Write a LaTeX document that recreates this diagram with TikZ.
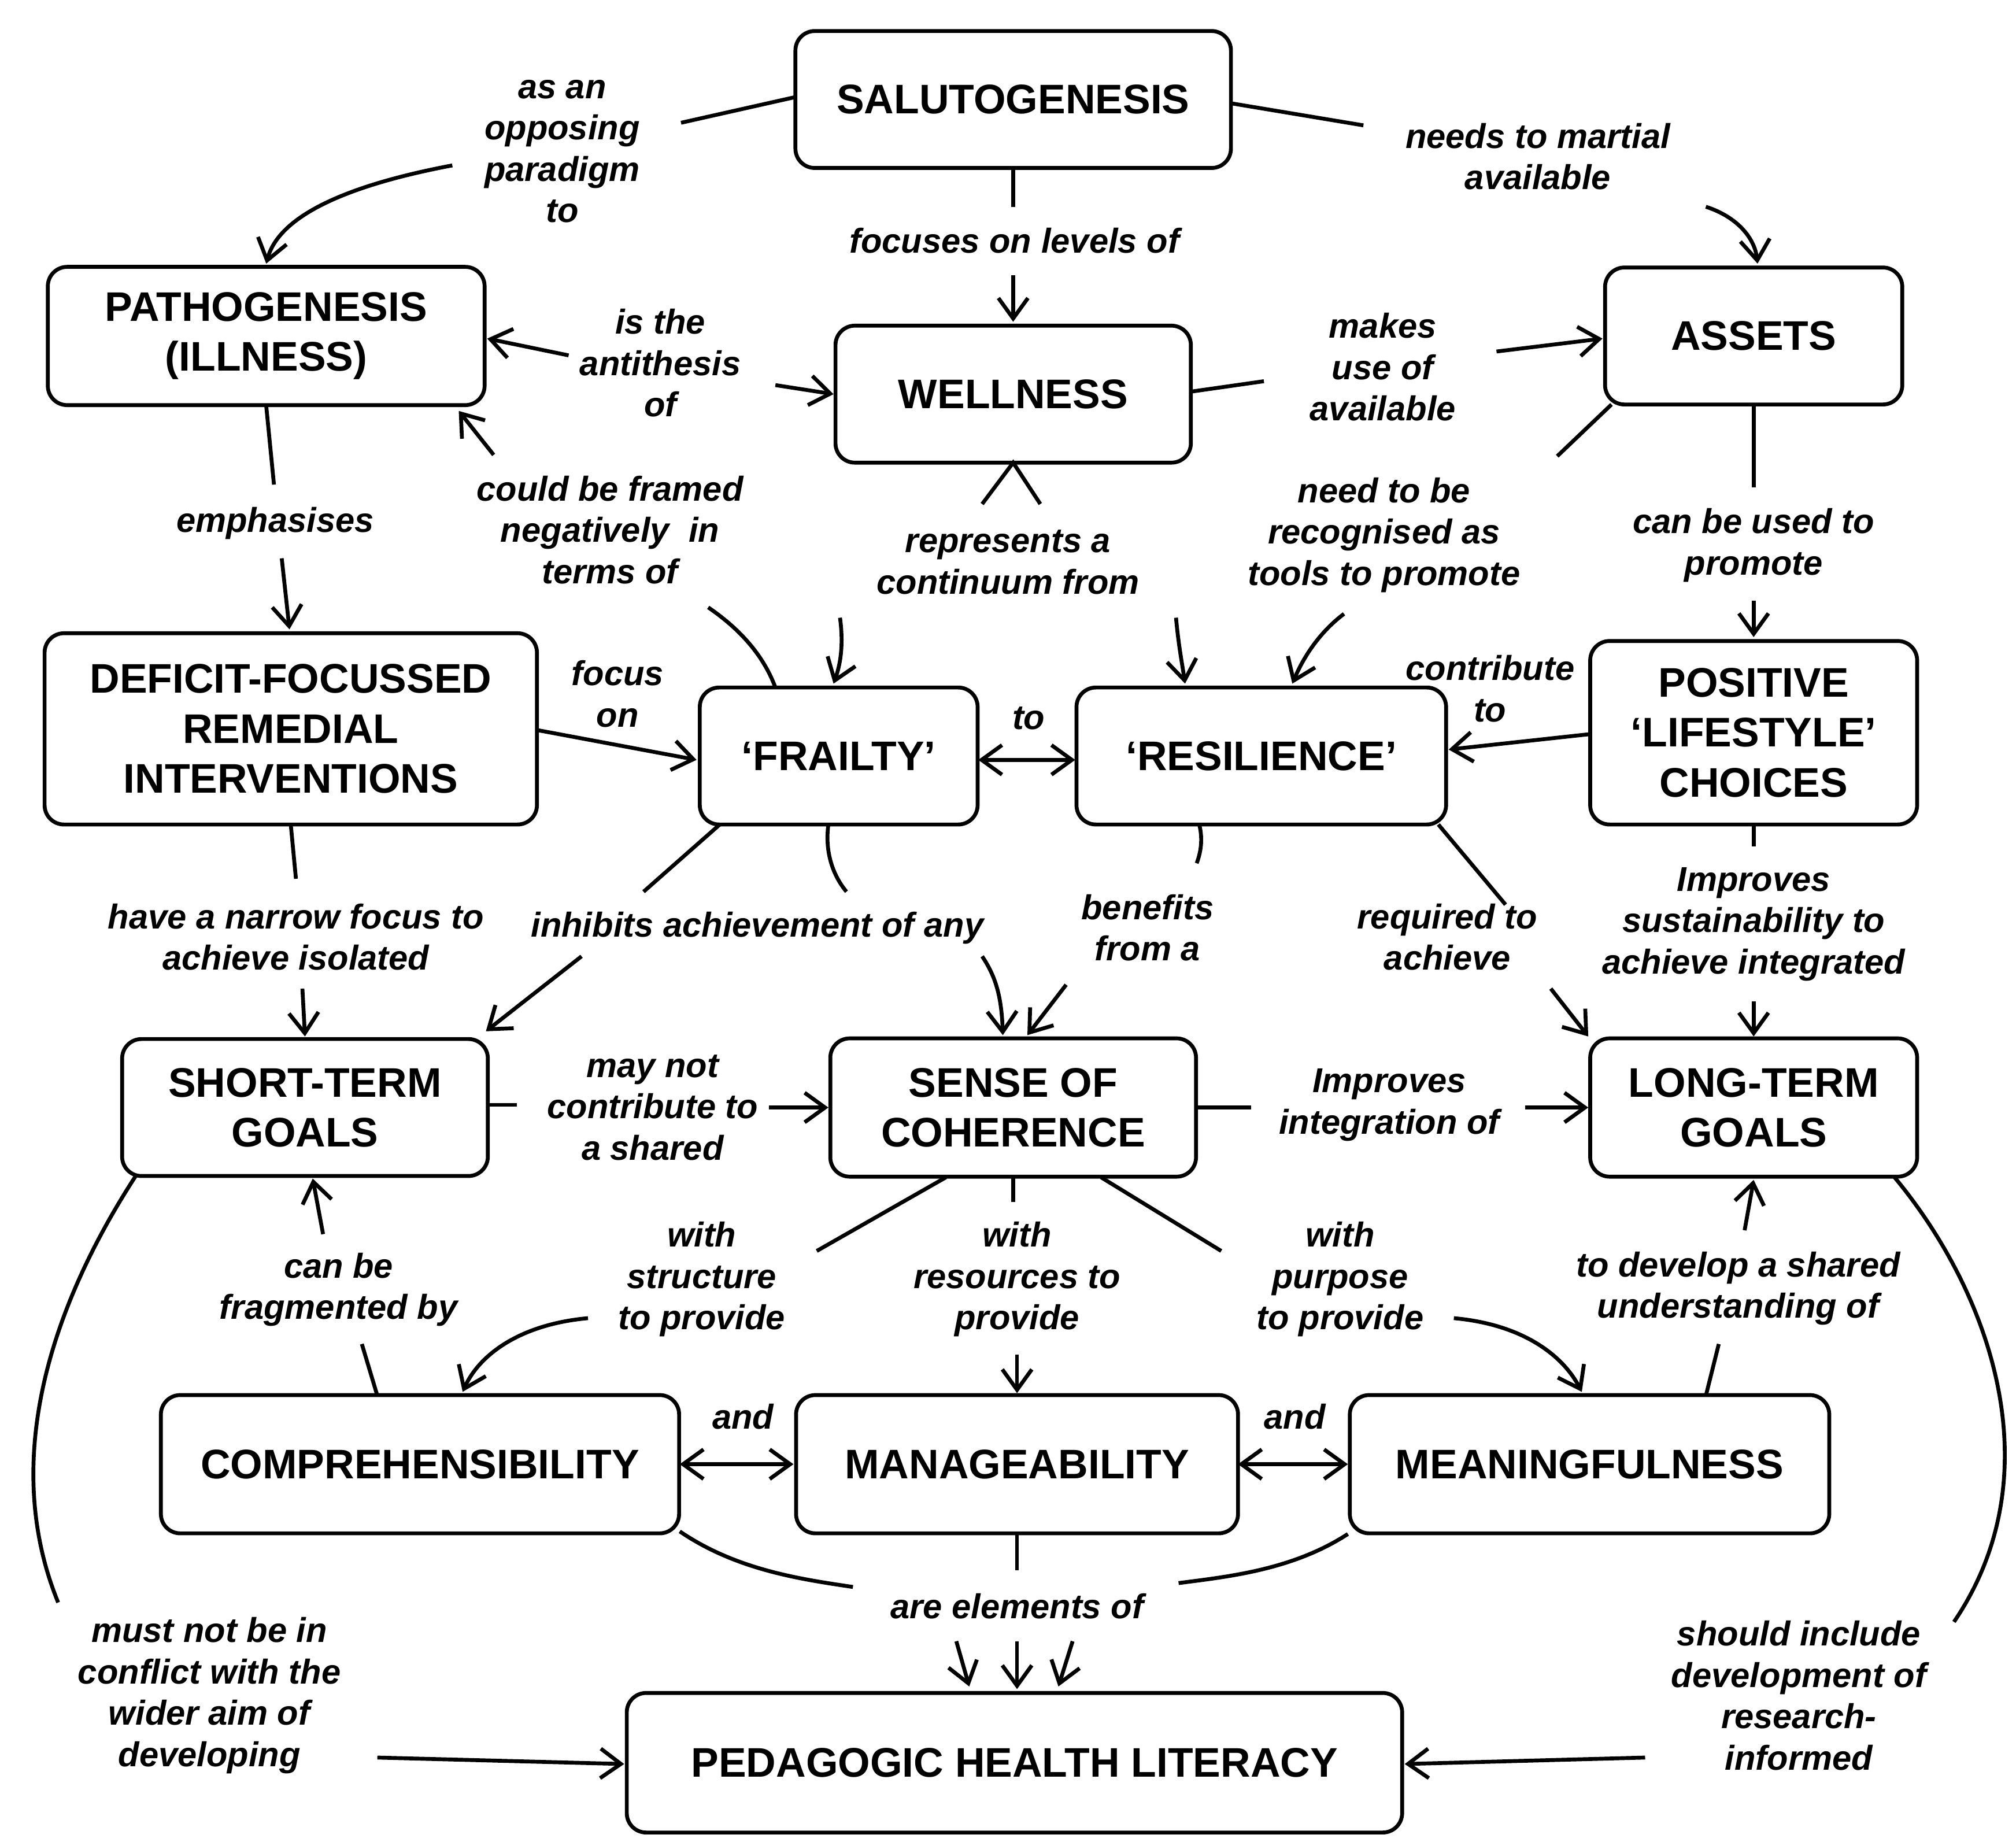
\documentclass[tikz,border=0pt]{standalone}
\usepackage{fontspec}
\setmainfont{Liberation Sans}
\usetikzlibrary{arrows.meta}
\begin{document}
\begin{tikzpicture}[x=0.02cm,y=-0.02cm,
 box/.style={draw,line width=1.7pt,rounded corners=0.3cm,align=center,font=\fontsize{18.2}{22}\selectfont\bfseries,inner sep=0pt},
 lab/.style={align=center,font=\fontsize{15.2}{18.2}\selectfont\bfseries\itshape,inner sep=0pt},
 ln/.style={line width=1.7pt},
 ar/.style={line width=1.7pt,-{Straight Barb[length=9pt,width=13pt,line width=1.7pt]}},
 dar/.style={line width=1.7pt,{Straight Barb[length=9pt,width=13pt,line width=1.7pt]}-{Straight Barb[length=9pt,width=13pt,line width=1.7pt]}}]
\useasboundingbox (0,0) rectangle (1560,1425);
\node[box,minimum width=337*0.02cm,minimum height=106*0.02cm] (sal) at (784,77) {SALUTOGENESIS};
\node[box,minimum width=338*0.02cm,minimum height=107*0.02cm] (pat) at (206,260) {PATHOGENESIS\\(ILLNESS)};
\node[box,minimum width=275*0.02cm,minimum height=106*0.02cm] (wel) at (784,305) {WELLNESS};
\node[box,minimum width=230*0.02cm,minimum height=106*0.02cm] (ass) at (1357,260) {ASSETS};
\node[box,minimum width=381*0.02cm,minimum height=148*0.02cm] (def) at (225,564) {DEFICIT-FOCUSSED\\REMEDIAL\\INTERVENTIONS};
\node[box,minimum width=215*0.02cm,minimum height=106*0.02cm] (fra) at (649,585) {‘FRAILTY’};
\node[box,minimum width=286*0.02cm,minimum height=106*0.02cm] (res) at (976,585) {‘RESILIENCE’};
\node[box,minimum width=253*0.02cm,minimum height=142*0.02cm] (pos) at (1357,567) {POSITIVE\\‘LIFESTYLE’\\CHOICES};
\node[box,minimum width=283*0.02cm,minimum height=106*0.02cm] (sho) at (236,857) {SHORT-TERM\\GOALS};
\node[box,minimum width=283*0.02cm,minimum height=107*0.02cm] (sen) at (784,857) {SENSE OF\\COHERENCE};
\node[box,minimum width=253*0.02cm,minimum height=107*0.02cm] (lon) at (1357,857) {LONG-TERM\\GOALS};
\node[box,minimum width=401*0.02cm,minimum height=107*0.02cm] (com) at (325,1133) {COMPREHENSIBILITY};
\node[box,minimum width=342*0.02cm,minimum height=107*0.02cm] (man) at (787,1133) {MANAGEABILITY};
\node[box,minimum width=371*0.02cm,minimum height=107*0.02cm] (mea) at (1230,1133) {MEANINGFULNESS};
\node[box,minimum width=600*0.02cm,minimum height=108*0.02cm] (ped) at (785,1364) {PEDAGOGIC HEALTH LITERACY};
% labels
\node[lab] (l1) at (435,117) {as an\\opposing\\paradigm\\to};
\node[lab] (l2) at (785,186) {focuses on levels of};
\node[lab] (l3) at (1190,121) {needs to martial\\available};
\node[lab] (l4) at (511,281) {is the\\antithesis\\of};
\node[lab] (l5) at (1070,284) {makes\\use of\\available};
\node[lab] (l6) at (780,435) {represents a\\continuum from};
\node[lab] (l7) at (472,410) {could be framed\\negatively\ \ in\\terms of};
\node[lab] (l8) at (213,405) {emphasises};
\node[lab] (l9) at (1357,422) {can be used to\\promote};
\node[lab] (l10) at (1071,414) {need to be\\recognised as\\tools to promote};
\node[lab] (l11) at (478,537) {focus\\on};
\node[lab] (l12) at (796,556) {to};
\node[lab] (l13) at (1153,533) {contribute\\to};
\node[lab] (l14) at (229,725) {have a narrow focus to\\achieve isolated};
\node[lab] (l15) at (586,718) {inhibits achievement of any};
\node[lab] (l16) at (888,718) {benefits\\from a};
\node[lab] (l17) at (1120,725) {required to\\achieve};
\node[lab] (l18) at (1357,715) {Improves\\sustainability to\\achieve integrated};
\node[lab] (l19) at (505,857) {may not\\contribute to\\a shared};
\node[lab] (l20) at (1075,855) {Improves\\integration of};
\node[lab] (l21) at (543,990) {with\\structure\\to provide};
\node[lab] (l22) at (787,990) {with\\resources to\\provide};
\node[lab] (l23) at (1037,990) {with\\purpose\\to provide};
\node[lab] (l24) at (262,998) {can be\\fragmented by};
\node[lab] (l25) at (1345,997) {to develop a shared\\understanding of};
\node[lab] (l26) at (575,1096) {and};
\node[lab] (l27) at (1002,1096) {and};
\node[lab] (l28) at (787,1243) {are elements of};
\node[lab] (l29) at (162,1312) {must not be in\\conflict with the\\wider aim of\\developing};
\node[lab] (l30) at (1392,1312) {should include\\development of\\research-\\informed};
% connectors
\draw[ln] (616,75) -- (527,95);
\draw[ar] (350,128) .. controls (260,145) and (215,170) .. (206,204);
\draw[ln] (784,130) -- (784,160);
\draw[ar] (784,213) -- (784,249);
\draw[ln] (953,80) -- (1055,97);
\draw[ar] (1320,160) .. controls (1345,168) and (1358,185) .. (1360,204);
\draw[ar] (440,275) -- (377,262);
\draw[ar] (600,298) -- (645,305);
\draw[ln] (922,303) -- (978,295);
\draw[ar] (1158,272) -- (1240,262);
\draw[ln] (760,390) -- (784,358) -- (805,390);
\draw[ar] (650,478) .. controls (653,500) and (650,515) .. (645,529);
\draw[ar] (910,478) .. controls (912,500) and (915,515) .. (917,529);
\draw[ln] (600,532) .. controls (590,505) and (570,485) .. (548,470);
\draw[ar] (382,352) -- (355,318);
\draw[ln] (206,314) -- (212,375);
\draw[ar] (218,432) -- (224,487);
\draw[ln] (1357,313) -- (1357,377);
\draw[ar] (1357,465) -- (1357,493);
\draw[ln] (1247,313) -- (1205,353);
\draw[ar] (1040,475) .. controls (1020,490) and (1008,510) .. (1000,529);
\draw[ar] (416,565) -- (539,588);
\draw[dar] (757,588) -- (832,588);
\draw[ar] (1231,568) -- (1121,580);
\draw[ln] (225,638) -- (229,680);
\draw[ar] (234,765) -- (236,802);
\draw[ln] (557,638) -- (498,690);
\draw[ln] (641,638) .. controls (638,660) and (645,678) .. (655,690);
\draw[ar] (450,740) -- (376,798);
\draw[ar] (760,740) .. controls (770,755) and (775,770) .. (776,801);
\draw[ln] (928,638) .. controls (931,650) and (929,660) .. (926,668);
\draw[ar] (825,762) -- (795,801);
\draw[ln] (1113,638) -- (1165,700);
\draw[ar] (1200,765) -- (1229,802);
\draw[ln] (1357,638) -- (1357,655);
\draw[ar] (1357,775) -- (1357,802);
\draw[ln] (378,855) -- (400,855);
\draw[ar] (595,857) -- (641,857);
\draw[ln] (926,857) -- (968,857);
\draw[ar] (1180,857) -- (1229,857);
\draw[ln] (732,911) -- (632,968);
\draw[ar] (455,1020) .. controls (400,1025) and (370,1050) .. (358,1077);
\draw[ln] (784,911) -- (784,930);
\draw[ar] (787,1048) -- (787,1078);
\draw[ln] (852,911) -- (945,968);
\draw[ar] (1125,1020) .. controls (1180,1025) and (1210,1050) .. (1224,1077);
\draw[ln] (292,1080) -- (280,1040);
\draw[ar] (250,955) -- (242,912);
\draw[ln] (1320,1080) -- (1330,1040);
\draw[ar] (1350,952) -- (1357,913);
\draw[dar] (526,1133) -- (614,1133);
\draw[dar] (958,1133) -- (1043,1133);
\draw[ln] (526,1185) .. controls (570,1215) and (620,1222) .. (660,1228);
\draw[ln] (787,1187) -- (787,1215);
\draw[ln] (1043,1187) .. controls (1000,1215) and (950,1220) .. (912,1225);
\draw[ar] (740,1270) -- (750,1305);
\draw[ar] (787,1270) -- (787,1307);
\draw[ar] (830,1270) -- (819,1305);
\draw[ln] (105,910) .. controls (40,1010) and (0,1130) .. (45,1240);
\draw[ar] (292,1360) -- (483,1365);
\draw[ln] (1466,911) .. controls (1540,1000) and (1590,1140) .. (1512,1255);
\draw[ar] (1273,1360) -- (1087,1365);
\end{tikzpicture}
\end{document}
